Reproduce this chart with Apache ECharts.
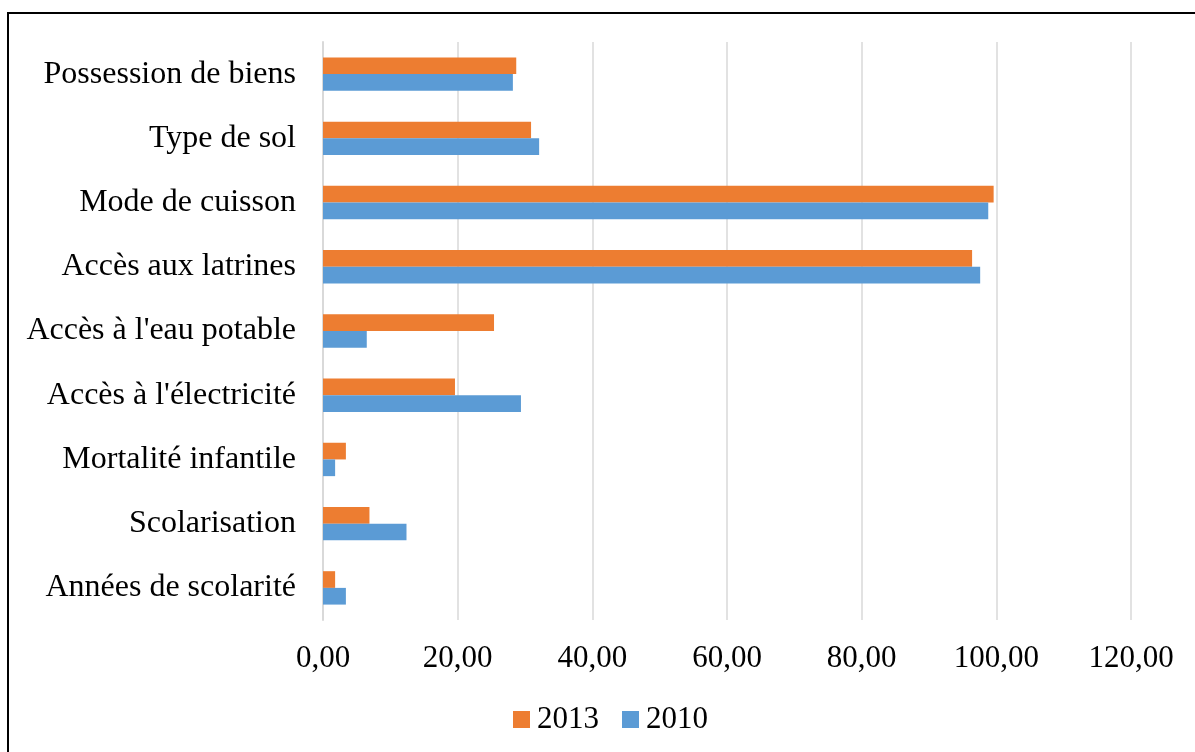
<!DOCTYPE html>
<html><head><meta charset="utf-8">
<script src="https://cdn.jsdelivr.net/npm/echarts@6/dist/echarts.min.js"></script>
<style>html,body{margin:0;padding:0;background:#fff}#c{width:1195px;height:752px}</style>
</head><body><div id="c"></div>
<script>
const categories = ["Années de scolarité","Scolarisation","Mortalité infantile","Accès à l'électricité","Accès à l'eau potable","Accès aux latrines","Mode de cuisson","Type de sol","Possession de biens"];
const values2010 = [3.4, 12.4, 1.8, 29.4, 6.5, 97.6, 98.8, 32.1, 28.2];
const values2013 = [1.8, 6.9, 3.4, 19.6, 25.4, 96.4, 99.6, 30.9, 28.7];
const legendLabels = ["2013","2010"];

const font = "'Liberation Serif','Times New Roman',serif";
const chart = echarts.init(document.getElementById('c'), null, {renderer:'canvas'});
chart.setOption({
  animation:false,
  backgroundColor:'#fff',
  graphic:[{type:'rect', shape:{x:8,y:13,width:1300,height:900}, style:{fill:'none',stroke:'#000',lineWidth:2}, silent:true}],
  grid:{left:323,right:64,top:42,bottom:132,containLabel:false},
  legend:{data:legendLabels, top:699, left:508, itemWidth:17, itemHeight:17, itemGap:23, icon:'rect',
    textStyle:{fontFamily:font,fontSize:31,color:'#000', padding:[0,0,0,2]}},
  xAxis:{type:'value', min:0, max:120, interval:20,
    axisLine:{show:false}, axisTick:{show:false},
    splitLine:{lineStyle:{color:'#d9d9d9',width:1.5}},
    axisLabel:{formatter:v=>v.toFixed(2).replace('.',','), fontFamily:font, fontSize:31, color:'#000', margin:23}},
  yAxis:{type:'category', data:categories,
    axisLine:{show:true,lineStyle:{color:'#d9d9d9',width:2}}, axisTick:{show:false},
    axisLabel:{fontFamily:font, fontSize:32, color:'#000', margin:27}},
  series:[
    {name:'2013', type:'bar', data:values2013, itemStyle:{color:'#ED7D31'}, barGap:'0%', barCategoryGap:'48%'},
    {name:'2010', type:'bar', data:values2010, itemStyle:{color:'#5B9BD5'}, barGap:'0%', barCategoryGap:'48%'}
  ]
});
</script></body></html>
